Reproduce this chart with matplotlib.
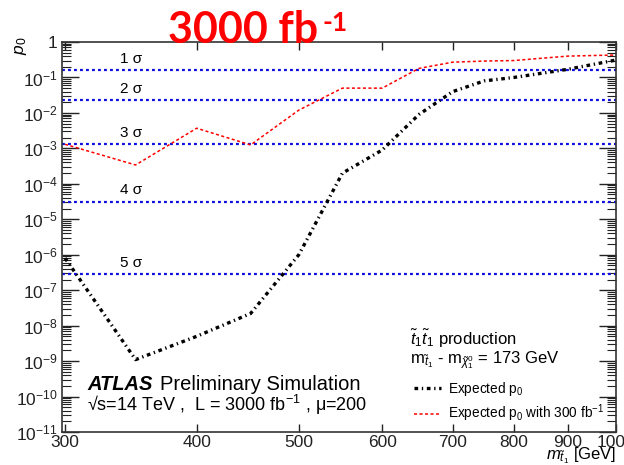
import numpy as np
import matplotlib
matplotlib.use("Agg")
import matplotlib.pyplot as plt
from matplotlib.ticker import FixedLocator, NullFormatter, NullLocator
from matplotlib.lines import Line2D

plt.rcParams["font.family"] = ["Liberation Sans", "DejaVu Sans"]
plt.rcParams["mathtext.fontset"] = "custom"
plt.rcParams["mathtext.rm"] = "Liberation Sans"
plt.rcParams["mathtext.it"] = "Liberation Sans:italic"
plt.rcParams["mathtext.bf"] = "Liberation Sans:bold"

# stop mass [GeV] and expected p0
mass = [300, 350, 400, 450, 500, 550, 600, 650, 700, 750, 800, 900, 1000]
p0_3000 = [8e-7, 1.1e-9, 5e-9, 2.2e-8, 1e-6, 2e-4, 9e-4, 9e-3, 0.04, 0.08, 0.1, 0.17, 0.31]
p0_300 = [1.3e-3, 3.4e-4, 3.7e-3, 1.25e-3, 1.2e-2, 5e-2, 5e-2, 0.18, 0.27, 0.29, 0.3, 0.4, 0.43]

sigma_names = ["1 σ", "2 σ", "3 σ", "4 σ", "5 σ"]
sigma_p0 = [0.1587, 0.02275, 1.35e-3, 3.17e-5, 2.87e-7]

xticks = [300, 400, 500, 600, 700, 800, 900, 1000]
yticks = [10.0 ** -k for k in range(0, 12)]
ylabels = ["1"] + [f"$10^{{-{k}}}$" for k in range(1, 12)]

fig = plt.figure(figsize=(6.24, 4.65), dpi=100)
ax = fig.add_axes([62 / 624, 33 / 465, 554 / 624, 390 / 465])
ax.set_xscale("log")
ax.set_yscale("log")
ax.set_xlim(298, 1000)
ax.set_ylim(1e-11, 1)

for name, p in zip(sigma_names, sigma_p0):
    ax.axhline(p, color="#1010e0", lw=1.6, dashes=(1.3, 1.4))
    ax.text(338, p * 1.3, name, fontsize=11, ha="left", va="bottom")

ax.plot(mass, p0_3000, color="black", lw=2.4, dashes=(1.1, 1.1, 0.4, 1.1))
ax.plot(mass, p0_300, color="red", lw=1.1, dashes=(2.0, 1.6))

ax.xaxis.set_major_locator(FixedLocator(xticks))
ax.xaxis.set_minor_locator(NullLocator())
ax.xaxis.set_minor_formatter(NullFormatter())
ax.set_xticklabels([str(v) for v in xticks])
ax.yaxis.set_major_locator(FixedLocator(yticks))
ax.set_yticklabels(ylabels)
minors = [m * 10.0 ** -k for k in range(1, 12) for m in range(2, 10)]
ax.yaxis.set_minor_locator(FixedLocator(minors))
ax.yaxis.set_minor_formatter(NullFormatter())

ax.tick_params(which="both", direction="in", top=True, right=True, colors="#222")
ax.tick_params(axis="y", which="major", length=12, width=1.0, labelsize=12.5, pad=3)
ax.tick_params(axis="y", which="minor", length=6.5, width=0.8)
ax.tick_params(axis="x", which="major", length=5.5, width=1.0, labelsize=12.5, pad=2)
for sp in ax.spines.values():
    sp.set_color("#333")
    sp.set_linewidth(1.2)

fig.text(13 / 624, 1 - 37 / 465, "$p_0$", rotation=90, fontsize=12.5, ha="left", va="top")
fig.text(616 / 624, 1 - 445 / 465, r"$m_{\tilde{t}_1}$ [GeV]", fontsize=12, ha="right", va="top")

fig.text(87 / 624, 1 - 390 / 465, "ATLAS", fontsize=14.5, fontweight="bold", style="italic")
fig.text(160 / 624, 1 - 390 / 465, "Preliminary Simulation", fontsize=14.5)
fig.text(87 / 624, 1 - 411 / 465, "√s=14 TeV ,  L = 3000 fb$^{-1}$ , μ=200", fontsize=13)

fig.text(410 / 624, 1 - 345 / 465, r"$\tilde{t}_1\tilde{t}_1$ production", fontsize=12)
fig.text(410 / 624, 1 - 363 / 465, r"m$_{\tilde{t}_1}$ - m$_{\tilde{\chi}^0_1}$ = 173 GeV", fontsize=12)
handles = [Line2D([0], [0], color="black", lw=2.4, dashes=(1.1, 1.1, 0.4, 1.1)),
           Line2D([0], [0], color="red", lw=1.1, dashes=(2.0, 1.6))]
labels = ["Expected p$_0$", "Expected p$_0$ with 300 fb$^{-1}$"]
fig.legend(handles, labels, loc="upper left", bbox_to_anchor=(414 / 624, 1 - 380 / 465),
           frameon=False, fontsize=9.8, handlelength=2.0, handletextpad=0.5,
           labelspacing=0.35, borderpad=0, borderaxespad=0)

fig.text(168 / 624, 1 - 43 / 465, "3000 fb", fontsize=31, fontweight="bold", color="red",
         family=["Lato", "DejaVu Sans"], va="baseline")
fig.text(322 / 624, 1 - 31 / 465, "-1", fontsize=19, fontweight="bold", color="red",
         family=["Lato", "DejaVu Sans"], va="baseline")

fig.savefig("out.png", dpi=100)
